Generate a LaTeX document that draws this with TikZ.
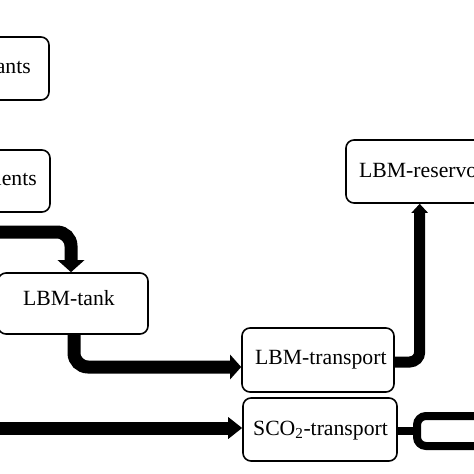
\documentclass[tikz,border=0pt]{standalone}
\usepackage{fontspec}
\setmainfont{Liberation Serif}
\usetikzlibrary{arrows.meta,calc}
\begin{document}
\begin{tikzpicture}[x=1pt,y=-1pt,
  box/.style={draw=black,line width=1.6pt,rounded corners=8pt,fill=white,inner sep=0pt},
  txt/.style={inner sep=0pt,font=\fontsize{21.7}{26}\selectfont},
  flow/.style={line width=13pt,rounded corners=14pt},
  thin flow/.style={line width=11pt,rounded corners=10pt},
  bracket/.style={line width=8pt,rounded corners=9pt}]
\useasboundingbox (0,0) rectangle (474,474);
\clip (0,0) rectangle (474,474);
\fill[white] (0,0) rectangle (474,474);
% boxes
\node[box,minimum width=150pt,minimum height=63pt] (p1) at (-26,68.5) {};
\node[box,minimum width=150pt,minimum height=62pt] (p2) at (-25,181) {};
\node[box,minimum width=150pt,minimum height=61pt] (tank) at (73,303.5) {};
\node[box,minimum width=152pt,minimum height=64pt] (trans) at (318,360) {};
\node[box,minimum width=154pt,minimum height=63pt] (sco) at (320,429.5) {};
\node[box,minimum width=150pt,minimum height=63pt] (res) at (421,171.5) {};
% texts
\node[txt,anchor=base east] (p1t) at (31,73) {ants};
\node[txt,anchor=base east] (p2t) at (37,185) {uents};
\node[txt,anchor=base west] (tankt) at (23,305) {LBM-tank};
\node[txt,anchor=base west] (transt) at (255,364) {LBM-transport};
\node[txt,anchor=base west] (rest) at (359,177) {LBM-reservoir};
\node[txt,anchor=base west] (scot) at (253,435) {SCO\textsubscript{2}-transport};
% free ends
\coordinate (inA) at (-20,232);
\coordinate (inB) at (-20,428);
\coordinate (brk) at (417,431);
% connectors
\draw[flow,-{Triangle[length=12pt,width=26pt]}] (inA) -| (tank.north -| 71,0);
\draw[flow,-{Triangle[length=11pt,width=24pt]}] (tank.south -| 74,0) |- ([yshift=-7pt]trans.west);
\draw[thin flow,-{Triangle[length=9pt,width=16pt]}] ([yshift=-2pt]trans.east) -| ([xshift=74.5pt]res.south west);
\draw[line width=13pt,-{Triangle[length=14pt,width=21pt]}] (inB) -- ([yshift=1.5pt]sco.west);
\draw[line width=8pt] ([yshift=-1.5pt]sco.east) -- (brk);
\draw[bracket] (490,416) -- (brk |- 0,416) -- (brk |- 0,446) -- (490,446);
\end{tikzpicture}
\end{document}
